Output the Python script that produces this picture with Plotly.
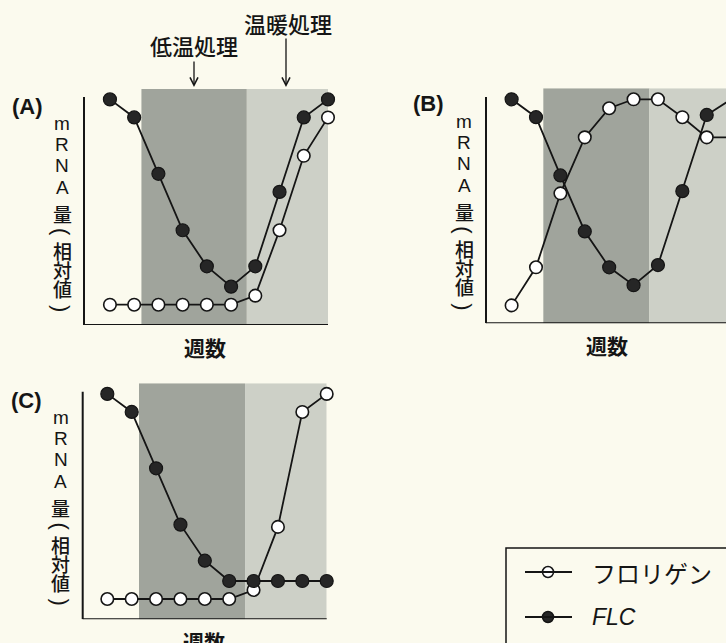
import plotly.graph_objects as go

W, H = 726, 643

# ---- data (relative mRNA amount) ----
weeks = list(range(10))
flc_A = [100, 92, 67, 42, 26, 17, 26, 59, 92, 100]
flor_A = [9, 9, 9, 9, 9, 9, 13, 42, 75, 92]
flc_B = [100, 92, 66, 41, 25, 17, 26, 59, 93, 100]
flor_B = [8, 25, 58, 83, 96, 100, 100, 92, 83, 83]
flc_C = [100, 92, 67, 42, 26, 17, 17, 17, 17, 17]
flor_C = [9, 9, 9, 9, 9, 9, 13, 41, 92, 100]

cold_start, warm_start, warm_end = 1.3, 5.65, 9

panel_labels = ["(A)", "(B)", "(C)"]
ylabel_chars = ["m", "R", "N", "A", "量", "(", "相", "対", "値", ")"]
xlabel = "週数"
legend_names = ["フロリゲン", "FLC"]
treat_labels = ["低温処理", "温暖処理"]

BG = "#fbfaee"
DARK = "#a0a49c"
LIGHT = "#cdd0c7"
INK = "#151515"
FONT = "Noto Sans CJK JP"

def X(px):
    return px / W

def Y(py):
    return 1 - py / H

def label(text, px, py, size, family=FONT, xanchor="center", weight=500, angle=0):
    return dict(text=text, x=X(px), y=Y(py), xref="paper", yref="paper", showarrow=False,
                xanchor=xanchor, yanchor="middle", textangle=angle,
                font=dict(family=family, size=size, color=INK, weight=weight))

# panel geometry in pixels
panels = [
    dict(ax=84, right=328, top=89, bottom=325, xr=[-1.07, 9], ytop=104.6, lab=(27, 106)),
    dict(ax=486, right=726, top=88.3, bottom=323.3, xr=[-1.05, 8.79], ytop=104.9, lab=(428, 103)),
    dict(ax=82.7, right=326.7, top=383.3, bottom=619.3, xr=[-1.01, 9], ytop=104.7, lab=(26, 400)),
]
series = [(flc_A, flor_A), (flc_B, flor_B), (flc_C, flor_C)]

fig = go.Figure()
shapes = []
annotations = []

for k, (p, (flc, flor)) in enumerate(zip(panels, series)):
    n = "" if k == 0 else str(k + 1)
    xa, ya = "x" + n, "y" + n
    fig.update_layout(**{
        ("xaxis" + n): dict(domain=[X(p["ax"]), X(p["right"])], range=p["xr"], visible=False,
                            anchor=ya, fixedrange=True),
        ("yaxis" + n): dict(domain=[Y(p["bottom"]), Y(p["top"])], range=[0, p["ytop"]], visible=False,
                            anchor=xa, fixedrange=True),
    })
    shapes.append(dict(type="rect", xref=xa, yref=ya, x0=cold_start, x1=warm_start, y0=0, y1=p["ytop"],
                       fillcolor=DARK, line_width=0, layer="below"))
    shapes.append(dict(type="rect", xref=xa, yref=ya, x0=warm_start, x1=warm_end, y0=0, y1=p["ytop"],
                       fillcolor=LIGHT, line_width=0, layer="below"))
    shapes.append(dict(type="line", xref=xa + " domain", yref=ya, x0=0, x1=0, y0=0, y1=101,
                       line=dict(color=INK, width=2)))
    shapes.append(dict(type="line", xref=xa + " domain", yref=ya, x0=0, x1=1, y0=0, y1=0,
                       line=dict(color=INK, width=2)))
    fig.add_trace(go.Scatter(x=weeks, y=flor, xaxis=xa, yaxis=ya, mode="lines+markers",
                             line=dict(color=INK, width=1.8), cliponaxis=False, showlegend=False,
                             marker=dict(size=12.5, color="white", line=dict(color=INK, width=1.6))))
    fig.add_trace(go.Scatter(x=weeks, y=flc, xaxis=xa, yaxis=ya, mode="lines+markers",
                             line=dict(color=INK, width=1.8), cliponaxis=False, showlegend=False,
                             marker=dict(size=13, color="#262626", line=dict(color=INK, width=1.2))))
    annotations.append(label(panel_labels[k], p["lab"][0], p["lab"][1], 22,
                             family="Liberation Sans Narrow, Liberation Sans", weight=700))
    offs = [202, 181, 160, 138, 112, 93, 75, 56, 37, 17]
    for ch, d in zip(ylabel_chars, offs):
        latin = ch in "mRNA"
        paren = ch in "()"
        annotations.append(label(ch, p["ax"] - 22, p["bottom"] - d,
                                 19 if latin else (22 if paren else 19),
                                 family="Liberation Sans" if (latin or paren) else FONT,
                                 weight=400 if latin or paren else 500,
                                 angle=90 if paren else 0))
    annotations.append(label(xlabel, p["ax"] + 121, p["bottom"] + 22, 21, weight=700))

# treatment labels and arrows (panel A)
annotations.append(label(treat_labels[0], 193.5, 45, 22))
annotations.append(label(treat_labels[1], 287.5, 23, 22))
annotations.append(dict(text="", x=X(194), y=Y(87), xref="paper", yref="paper", showarrow=True,
                        ax=0, ay=-27, arrowhead=5, arrowsize=1.2, arrowwidth=1.3, arrowcolor=INK))
annotations.append(dict(text="", x=X(286), y=Y(87), xref="paper", yref="paper", showarrow=True,
                        ax=0, ay=-50, arrowhead=5, arrowsize=1.2, arrowwidth=1.3, arrowcolor=INK))

# legend box
shapes.append(dict(type="rect", xref="paper", yref="paper", x0=X(506), x1=X(740), y0=Y(548), y1=Y(660),
                   line=dict(color=INK, width=1.5), fillcolor="rgba(0,0,0,0)"))
for i, (nm, yy) in enumerate(zip(legend_names, [572, 617])):
    shapes.append(dict(type="line", xref="paper", yref="paper", x0=X(525), x1=X(572), y0=Y(yy), y1=Y(yy),
                       line=dict(color=INK, width=1.8)))
    fig.add_trace(go.Scatter(x=[X(548)], y=[Y(yy)], xaxis="x4", yaxis="y4", mode="markers",
                             showlegend=False, cliponaxis=False,
                             marker=dict(size=11, color="white" if i == 0 else "#262626",
                                         line=dict(color=INK, width=1.5))))
    annotations.append(label(nm if i == 0 else "<i>" + nm + "</i>", 590, yy, 24 if i == 0 else 23,
                             family=FONT if i == 0 else "Liberation Sans", xanchor="left",
                             weight=400))

fig.update_layout(
    xaxis4=dict(domain=[0, 1], range=[0, 1], visible=False, anchor="y4", fixedrange=True),
    yaxis4=dict(domain=[0, 1], range=[0, 1], visible=False, anchor="x4", fixedrange=True),
    width=W, height=H, margin=dict(l=0, r=0, t=0, b=0),
    paper_bgcolor=BG, plot_bgcolor="rgba(0,0,0,0)",
    shapes=shapes, annotations=annotations, showlegend=False,
)

fig.write_html("out.html", config={"displayModeBar": False},
               post_script="document.body.style.margin='0';document.body.style.overflow='hidden';")
